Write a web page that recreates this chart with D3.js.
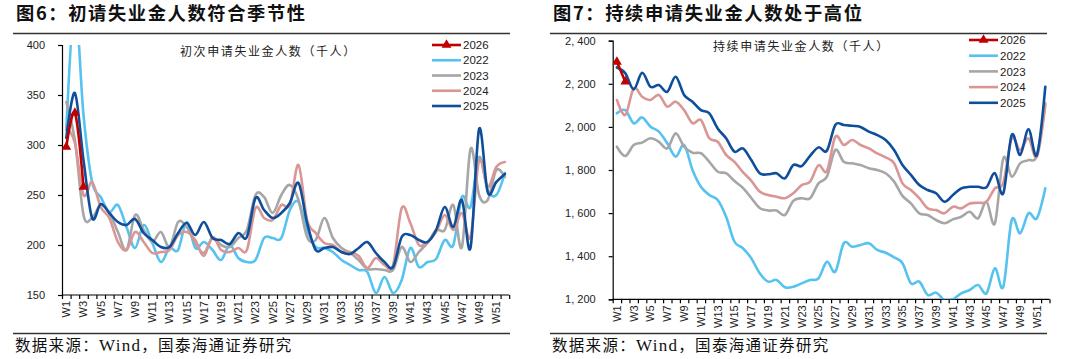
<!DOCTYPE html>
<html><head><meta charset="utf-8">
<script src="https://cdn.jsdelivr.net/npm/d3@7"></script>
<style>
html,body{margin:0;padding:0;background:#fff;}
svg{display:block;}
</style></head>
<body>
<svg id="c" width="1080" height="359"></svg>
<script>
// ---------- data ----------
const weeks = d3.range(1, 53).map(d => "W" + d);
const seriesNames = ["2026", "2022", "2023", "2024", "2025"];
const seriesColors = ["#C00000", "#55C2F0", "#A6A6A6", "#DA9694", "#0E4E9A"];

// Initial jobless claims (thousands, NSA)
const ic2022 = [315, 440, 330, 263, 248, 233, 240, 218, 197, 220, 202, 183, 197, 195, 223, 197, 203, 195, 185, 200, 187, 183, 185, 207, 207, 207, 235, 243, 215, 198, 197, 193, 185, 180, 175, 173, 152, 168, 152, 165, 197, 178, 183, 186, 205, 200, 248, 238, 288, 255, 250, 272];
const ic2023 = [343, 305, 230, 227, 240, 232, 213, 195, 230, 215, 203, 213, 198, 223, 218, 202, 192, 207, 200, 198, 207, 215, 250, 248, 232, 250, 260, 245, 208, 205, 227, 207, 197, 192, 185, 176, 176, 175, 175, 198, 183, 193, 202, 215, 215, 240, 198, 296, 250, 245, 275, 268];
const ic2024 = [318, 302, 250, 263, 238, 227, 203, 195, 213, 203, 192, 193, 195, 210, 213, 205, 189, 208, 195, 193, 197, 195, 237, 227, 225, 240, 240, 280, 225, 212, 202, 200, 193, 193, 189, 177, 187, 180, 180, 237, 222, 200, 203, 213, 230, 215, 232, 208, 285, 258, 278, 283];
const ic2025 = [307, 352, 285, 227, 241, 232, 223, 220, 226, 212, 205, 198, 198, 212, 222, 210, 223, 207, 205, 201, 212, 208, 247, 235, 227, 232, 242, 262, 222, 195, 197, 198, 193, 191, 197, 203, 192, 183, 178, 208, 210, 205, 203, 215, 238, 218, 245, 197, 316, 253, 263, 271];
const ic2026 = [298, 332, 258];
const icTicks = [150, 200, 250, 300, 350, 400];

// Continuing claims (thousands, NSA)
const cc2022 = [2063, 2078, 2017, 2044, 2001, 1978, 1924, 1862, 1916, 1800, 1722, 1684, 1661, 1583, 1467, 1437, 1390, 1321, 1282, 1290, 1256, 1258, 1274, 1290, 1297, 1374, 1328, 1460, 1444, 1452, 1460, 1429, 1416, 1395, 1367, 1274, 1282, 1220, 1231, 1196, 1200, 1228, 1243, 1266, 1228, 1344, 1258, 1568, 1506, 1599, 1576, 1715];
const cc2023 = [1908, 1865, 1916, 1927, 1947, 1931, 1900, 1970, 1908, 1880, 1878, 1838, 1792, 1785, 1749, 1717, 1670, 1624, 1612, 1612, 1591, 1657, 1669, 1669, 1738, 1769, 1893, 1838, 1831, 1823, 1808, 1800, 1785, 1746, 1680, 1645, 1599, 1591, 1568, 1553, 1571, 1583, 1606, 1576, 1653, 1553, 1854, 1769, 1831, 1846, 1870, 2109];
const cc2024 = [2125, 2055, 2179, 2140, 2125, 2148, 2094, 2117, 2078, 2017, 2032, 1947, 1931, 1870, 1838, 1790, 1750, 1700, 1684, 1676, 1669, 1692, 1730, 1746, 1822, 1795, 1954, 1916, 1939, 1916, 1900, 1877, 1859, 1831, 1738, 1707, 1669, 1622, 1614, 1599, 1630, 1622, 1645, 1648, 1653, 1715, 1740, 1947, 1893, 1947, 1862, 2100];
const cc2025 = [2276, 2249, 2174, 2251, 2186, 2194, 2163, 2233, 2148, 2117, 2078, 2063, 1993, 1947, 1885, 1900, 1846, 1785, 1780, 1785, 1761, 1823, 1818, 1866, 1905, 1890, 2009, 2009, 2005, 2000, 1978, 1962, 1939, 1893, 1823, 1777, 1730, 1707, 1692, 1653, 1684, 1715, 1722, 1722, 1720, 1785, 1692, 1962, 1870, 1989, 1870, 2186];
const cc2026 = [2302, 2210];
const ccTicks = [1200, 1400, 1600, 1800, 2000, 2200, 2400];

const panels = [
  {
    title: "图6：初请失业金人数符合季节性",
    sub: "初次申请失业金人数（千人）",
    source: "数据来源：Wind，国泰海通证券研究",
    data: [ic2026, ic2022, ic2023, ic2024, ic2025],
    ticks: icTicks, fmt: d => String(d),
    left: 13, right: 510,
    x0: 62, x1: 509.2, yTop: 45, yBot: 295,
    subX: 180, subY: 56,
    legX: 432, legY: 45, legStep: 15.25
  },
  {
    title: "图7：持续申请失业金人数处于高位",
    sub: "持续申请失业金人数（千人）",
    source: "数据来源：Wind，国泰海通证券研究",
    data: [cc2026, cc2022, cc2023, cc2024, cc2025],
    ticks: ccTicks, fmt: d => d3.format(",")(d).replace(",", ", "),
    left: 550, right: 1047,
    x0: 612.7, x1: 1049.5, yTop: 40.7, yBot: 299.3,
    subX: 713, subY: 51,
    legX: 969, legY: 40, legStep: 15.7
  }
];

const svg = d3.select("#c");
const CJK = "'Noto Sans CJK SC', 'Noto Sans', sans-serif";
const LAT = "'Liberation Sans', Arial, sans-serif";

panels.forEach((p, pi) => {
  const g = svg.append("g");

  // title
  g.append("text").attr("x", p.left + 3).attr("y", 20)
    .attr("font-family", CJK).attr("font-weight", 700).attr("font-size", 18.3)
    .attr("letter-spacing", 1.6).attr("fill", "#111").text(p.title);
  g.append("line").attr("x1", p.left).attr("x2", p.right).attr("y1", 33.5).attr("y2", 33.5)
    .attr("stroke", "#333").attr("stroke-width", 1.5);
  g.append("line").attr("x1", p.left).attr("x2", p.right).attr("y1", 333.5).attr("y2", 333.5)
    .attr("stroke", "#333").attr("stroke-width", 1.5);
  const src = g.append("text").attr("x", p.left + 2).attr("y", 351)
    .attr("font-family", CJK).attr("font-size", 15.5).attr("letter-spacing", 1.3).attr("fill", "#111");
  src.append("tspan").text("数据来源：");
  src.append("tspan").attr("font-family", "'Liberation Serif', serif").attr("font-size", 17).text("Wind");
  src.append("tspan").text("，国泰海通证券研究");

  // scales
  const x = d3.scaleBand().domain(weeks).range([p.x0, p.x1]).padding(0);
  const xl = d3.scaleLinear().domain([0, 52]).range([p.x0, p.x1]);
  const y = d3.scaleLinear().domain([p.ticks[0], p.ticks[p.ticks.length - 1]]).range([p.yBot, p.yTop]);

  // clip
  const cid = "clip" + pi;
  svg.append("defs").append("clipPath").attr("id", cid).append("rect")
    .attr("x", p.x0).attr("y", p.yTop).attr("width", p.x1 - p.x0).attr("height", p.yBot - p.yTop);

  // y axis
  const ya = g.append("g").attr("transform", `translate(${p.x0},0)`)
    .call(d3.axisLeft(y).tickValues(p.ticks).tickSize(4).tickPadding(13).tickFormat(p.fmt));
  ya.selectAll("path,line").attr("stroke", "#000").attr("stroke-width", 1.2);
  ya.selectAll("text").attr("font-family", LAT).attr("font-size", 11).attr("fill", "#222");

  // x axis: ticks at band boundaries
  const xa = g.append("g").attr("transform", `translate(0,${p.yBot})`)
    .call(d3.axisBottom(xl).tickValues(d3.range(0, 53)).tickSize(4).tickFormat(""));
  xa.selectAll("path,line").attr("stroke", "#000").attr("stroke-width", 1.2);
  xa.select("path").attr("d", `M${p.x0},0H${p.x1}`);

  // x labels (odd weeks), rotated
  g.append("g").selectAll("text").data(weeks.filter((d, i) => i % 2 === 0)).join("text")
    .attr("transform", d => `translate(${x(d) + x.bandwidth() / 2},${p.yBot + 6}) rotate(-90)`)
    .attr("text-anchor", "end").attr("dy", "0.35em")
    .attr("font-family", LAT).attr("font-size", 11).attr("fill", "#222")
    .text(d => d);

  // sub title
  g.append("text").attr("x", p.subX).attr("y", p.subY)
    .attr("font-family", CJK).attr("font-size", 12).attr("letter-spacing", 1.6).attr("fill", "#222")
    .text(p.sub);

  // lines
  const line = d3.line()
    .x((d, i) => x(weeks[i]) + x.bandwidth() / 2)
    .y(d => y(d))
    .curve(d3.curveCardinal);
  const order = [1, 2, 3, 4, 0];
  const lg = g.append("g").attr("clip-path", `url(#${cid})`);
  order.forEach(k => {
    lg.append("path").attr("d", line(p.data[k])).attr("fill", "none")
      .attr("stroke", seriesColors[k]).attr("stroke-width", 2.6)
      .attr("stroke-linejoin", "round").attr("stroke-linecap", "round");
  });
  const tri = d3.symbol(d3.symbolTriangle, 42);
  lg.selectAll("path.mk").data(p.data[0]).join("path").attr("class", "mk")
    .attr("d", tri)
    .attr("transform", (d, i) => `translate(${x(weeks[i]) + x.bandwidth() / 2},${y(d)})`)
    .attr("fill", seriesColors[0]);

  // legend
  const leg = g.append("g");
  seriesNames.forEach((n, k) => {
    const ly = p.legY + k * p.legStep;
    leg.append("line").attr("x1", p.legX).attr("x2", p.legX + 29).attr("y1", ly).attr("y2", ly)
      .attr("stroke", seriesColors[k]).attr("stroke-width", 2.6);
    if (k === 0) {
      leg.append("path").attr("d", tri).attr("transform", `translate(${p.legX + 14.5},${ly})`)
        .attr("fill", seriesColors[0]);
    }
    leg.append("text").attr("x", p.legX + 31).attr("y", ly).attr("dy", "0.36em")
      .attr("font-family", LAT).attr("font-size", 11.5).attr("fill", "#222").text(n);
  });
});
</script>
</body></html>
